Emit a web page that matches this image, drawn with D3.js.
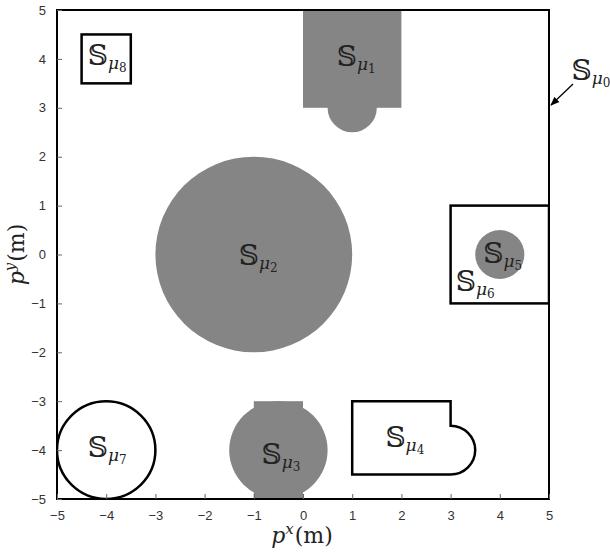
<!DOCTYPE html>
<html>
<head>
<meta charset="utf-8">
<script src="https://cdn.jsdelivr.net/npm/d3@7"></script>
<style>
  body { margin: 0; background: #fff; }
  .tick text { font-family: "Liberation Sans", Arial, sans-serif; font-size: 13px; fill: #333; }
</style>
</head>
<body>
<script>
// DATA
// =============================================================================

const xTicks = [-5, -4, -3, -2, -1, 0, 1, 2, 3, 4, 5];
const yTicks = [-5, -4, -3, -2, -1, 0, 1, 2, 3, 4, 5];

// filled obstacles: rects [x0, x1, y0, y1], circles [cx, cy, r]
const filledRects = [[0, 2, 3, 5], [-1, 0, -5, -3]];
const filledCircles = [[1, 3, 0.5], [-1, 0, 2], [-0.5, -4, 1], [4, 0, 0.5]];

// outlined regions
const outlineRects = [[3, 5, -1, 1], [-4.5, -3.5, 3.5, 4.5]];
const outlineCircles = [[-4, -4, 1]];
// rect with round cap on the right: [x0, x1, y0, y1, capCy, capR]
const cappedRects = [[1, 3, -4.5, -3, -4, 0.5]];

// region labels: [index, x, y]
const labels = [
  [1, 1.08, 4.05], [2, -0.91, 0], [3, -0.45, -4.08], [4, 2.07, -3.73],
  [5, 4.06, 0.03], [6, 3.5, -0.54], [7, -3.98, -3.93], [8, -3.98, 4.08]
];

// CONFIG
// =============================================================================

const width = 610;
const height = 552;
const plot = { left: 57, right: 549, top: 10, bottom: 499 };
const gray = "#858585";

const x = d3.scaleLinear().domain([-5, 5]).range([plot.left, plot.right]);
const y = d3.scaleLinear().domain([-5, 5]).range([plot.bottom, plot.top]);
const rx = r => x(r) - x(0);
const ry = r => y(0) - y(r);

const svg = d3.select("body").append("svg")
    .attr("width", width)
    .attr("height", height);

const defs = svg.append("defs");

defs.append("clipPath").attr("id", "clip")
  .append("rect")
    .attr("x", plot.left).attr("y", plot.top)
    .attr("width", plot.right - plot.left)
    .attr("height", plot.bottom - plot.top);

const g = svg.append("g").attr("clip-path", "url(#clip)");

// SHAPES
// =============================================================================

g.selectAll("rect.fill").data(filledRects).enter().append("rect")
    .attr("class", "fill")
    .attr("x", d => x(d[0]))
    .attr("y", d => y(d[3]))
    .attr("width", d => x(d[1]) - x(d[0]))
    .attr("height", d => y(d[2]) - y(d[3]))
    .attr("fill", gray);

g.selectAll("ellipse.fill").data(filledCircles).enter().append("ellipse")
    .attr("class", "fill")
    .attr("cx", d => x(d[0]))
    .attr("cy", d => y(d[1]))
    .attr("rx", d => rx(d[2]))
    .attr("ry", d => ry(d[2]))
    .attr("fill", gray);

g.selectAll("rect.out").data(outlineRects).enter().append("rect")
    .attr("class", "out")
    .attr("x", d => x(d[0]))
    .attr("y", d => y(d[3]))
    .attr("width", d => x(d[1]) - x(d[0]))
    .attr("height", d => y(d[2]) - y(d[3]))
    .attr("fill", "none")
    .attr("stroke", "#000")
    .attr("stroke-width", 2.5);

g.selectAll("ellipse.out").data(outlineCircles).enter().append("ellipse")
    .attr("class", "out")
    .attr("cx", d => x(d[0]))
    .attr("cy", d => y(d[1]))
    .attr("rx", d => rx(d[2]))
    .attr("ry", d => ry(d[2]))
    .attr("fill", "none")
    .attr("stroke", "#000")
    .attr("stroke-width", 2.5);

g.selectAll("path.cap").data(cappedRects).enter().append("path")
    .attr("class", "cap")
    .attr("d", d => {
      const [x0, x1, y0, y1, cy, r] = d;
      return `M${x(x0)},${y(y1)} L${x(x1)},${y(y1)} L${x(x1)},${y(cy + r)}`
        + ` A${rx(r)},${ry(r)} 0 0 1 ${x(x1)},${y(cy - r)}`
        + ` L${x(x1)},${y(y0)} L${x(x0)},${y(y0)} Z`;
    })
    .attr("fill", "none")
    .attr("stroke", "#000")
    .attr("stroke-width", 2.5);

// AXES
// =============================================================================

svg.append("rect")
    .attr("x", plot.left).attr("y", plot.top)
    .attr("width", plot.right - plot.left)
    .attr("height", plot.bottom - plot.top)
    .attr("fill", "none")
    .attr("stroke", "#000")
    .attr("stroke-width", 2);

const xAxis = svg.append("g")
    .attr("transform", `translate(0,${plot.bottom})`)
    .call(d3.axisBottom(x).tickValues(xTicks).tickFormat(d3.format("d"))
      .tickSizeInner(-5).tickSizeOuter(0).tickPadding(12));
xAxis.select(".domain").remove();
xAxis.selectAll("line").attr("stroke", "#666");

const yAxis = svg.append("g")
    .attr("transform", `translate(${plot.left},0)`)
    .call(d3.axisLeft(y).tickValues(yTicks).tickFormat(d3.format("d"))
      .tickSizeInner(-5).tickSizeOuter(0).tickPadding(11));
yAxis.select(".domain").remove();
yAxis.selectAll("line").attr("stroke", "#666");

const serif = "'DejaVu Serif', 'Liberation Serif', serif";

function axisLabel(sel, sup) {
  sel.attr("font-family", serif).attr("font-size", 22).attr("fill", "#222")
     .attr("text-anchor", "middle");
  sel.append("tspan").attr("font-style", "italic").text("p");
  sel.append("tspan").attr("font-style", "italic").attr("font-size", 15)
     .attr("dy", -9).text(sup);
  sel.append("tspan").attr("dy", 9).attr("dx", 1).text("(m)");
}

svg.append("text")
    .attr("x", 302)
    .attr("y", 543)
    .call(axisLabel, "x");

svg.append("text")
    .attr("transform", `translate(24,${y(0)}) rotate(-90)`)
    .call(axisLabel, "y");

// LABELS
// =============================================================================

function regionLabel(sel, i) {
  sel.attr("font-family", serif).attr("fill", "#222").attr("text-anchor", "middle");
  sel.append("tspan").attr("font-size", 28).text("\u{1D54A}");
  sel.append("tspan").attr("font-size", 17).attr("font-style", "italic")
     .attr("dy", 4).text("\u03BC");
  sel.append("tspan").attr("font-size", 12).attr("dy", 3).text(i);
}

svg.selectAll("text.region").data(labels).enter().append("text")
    .attr("class", "region")
    .attr("x", d => x(d[1]))
    .attr("y", d => y(d[2]) + 10)
    .each(function(d) { d3.select(this).call(regionLabel, d[0]); });

svg.append("text")
    .attr("x", 591)
    .attr("y", 80)
    .call(regionLabel, 0);

defs.append("marker")
    .attr("id", "arrow")
    .attr("viewBox", "0 0 10 10")
    .attr("refX", 9).attr("refY", 5)
    .attr("markerWidth", 7).attr("markerHeight", 7)
    .attr("orient", "auto")
  .append("path")
    .attr("d", "M0,1 L10,5 L0,9 Z")
    .attr("fill", "#000");

svg.append("line")
    .attr("x1", 573).attr("y1", 84)
    .attr("x2", 551).attr("y2", 105)
    .attr("stroke", "#000")
    .attr("stroke-width", 1.3)
    .attr("marker-end", "url(#arrow)");
</script>
</body>
</html>
